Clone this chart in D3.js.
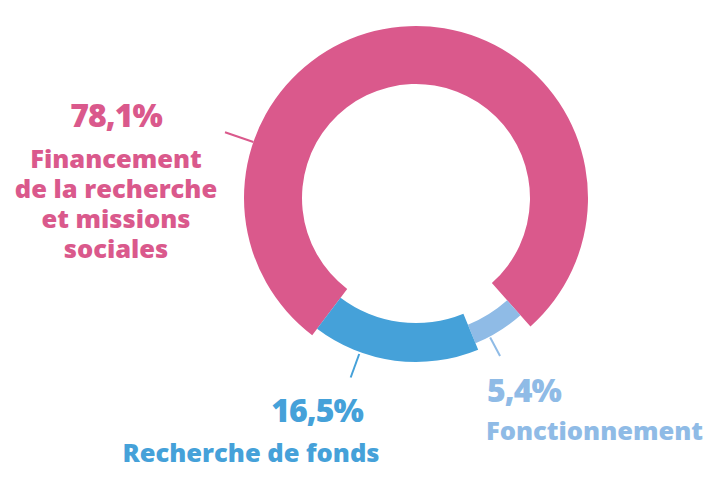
<!DOCTYPE html>
<html>
<head>
<meta charset="utf-8">
<script src="https://cdn.jsdelivr.net/npm/d3@7"></script>
<style>
  html, body { margin: 0; padding: 0; background: #fff; }
  svg { display: block; font-family: "Open Sans", "Lato", sans-serif; }
</style>
</head>
<body>
<div id="chart"></div>
<script>
// data, in drawing order (clockwise)
const categories = ["Financement de la recherche et missions sociales", "Fonctionnement", "Recherche de fonds"];
const shares = [78.1, 5.4, 16.5];
const shareLabels = ["78,1%", "5,4%", "16,5%"];
const labelLines = [
    ["Financement", "de la recherche", "et missions", "sociales"],
    ["Fonctionnement"],
    ["Recherche de fonds"]
];

const width = 716;
const height = 492;
const cx = 416, cy = 198;
const deg = Math.PI / 180;

const color = d3.scaleOrdinal()
    .domain(categories)
    .range(["#da598c", "#8fbbe6", "#45a1d9"]);

// each ring piece has its own thickness
const ring = [
    { inner: 114, outer: 172 },
    { inner: 137, outer: 157 },
    { inner: 125, outer: 164 }
];

// where the labels and leader lines go
const labelPos = [
    { x: 116, y: 127, anchor: "middle", subX: 116, subY: 168 },
    { x: 487, y: 402, anchor: "start", subX: 486, subY: 440 },
    { x: 317, y: 422, anchor: "middle", subX: 251, subY: 462 }
];
const leaders = [
    { angle: 289, r0: 172, r1: 202 },
    { angle: 152, r0: 158, r1: 179 },
    { angle: 200, r0: 166, r1: 191 }
];

// center the two small pieces around the bottom
const total = d3.sum(shares);
const groupCenter = 177.7 * deg;
const start = groupCenter + (total - shares[0]) / total * Math.PI;

const pie = d3.pie()
    .sort(null)
    .value(d => d)
    .startAngle(start)
    .endAngle(start + 2 * Math.PI);

const arcs = pie(shares);

const svg = d3.select("#chart")
    .append("svg")
    .attr("width", width)
    .attr("height", height);

const g = svg.append("g")
    .attr("transform", "translate(" + cx + "," + cy + ")");

g.selectAll("path")
    .data(arcs)
    .join("path")
    .attr("fill", (d, i) => color(categories[i]))
    .attr("d", (d, i) => d3.arc()
        .innerRadius(ring[i].inner)
        .outerRadius(ring[i].outer)(d));

// leader lines
g.selectAll("line")
    .data(leaders)
    .join("line")
    .attr("x1", d => Math.sin(d.angle * deg) * d.r0)
    .attr("y1", d => -Math.cos(d.angle * deg) * d.r0)
    .attr("x2", d => Math.sin(d.angle * deg) * d.r1)
    .attr("y2", d => -Math.cos(d.angle * deg) * d.r1)
    .attr("stroke", (d, i) => color(categories[i]))
    .attr("stroke-width", 2);

// labels
const labels = svg.append("g")
    .selectAll("g")
    .data(categories)
    .join("g")
    .attr("fill", d => color(d))
    .attr("font-weight", 800);

labels.append("text")
    .attr("x", (d, i) => labelPos[i].x)
    .attr("y", (d, i) => labelPos[i].y)
    .attr("text-anchor", (d, i) => labelPos[i].anchor)
    .style("font-size", "32px")
    .style("letter-spacing", "-1px")
    .text((d, i) => shareLabels[i]);

labels.append("text")
    .attr("text-anchor", (d, i) => labelPos[i].anchor)
    .style("font-size", "25.5px")
    .selectAll("tspan")
    .data((d, i) => labelLines[i].map(t => ({ t: t, i: i })))
    .join("tspan")
    .attr("x", d => labelPos[d.i].subX)
    .attr("y", (d, k) => labelPos[d.i].subY + k * 30)
    .text(d => d.t);
</script>
</body>
</html>
